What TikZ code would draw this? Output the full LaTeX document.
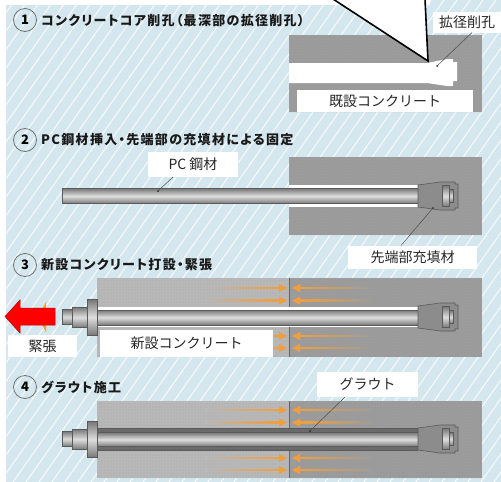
\documentclass[tikz,border=0pt]{standalone}
\usepackage{fontspec}
\newfontfamily\jp{Noto Sans CJK JP}
\newfontfamily\jpp[RawFeature=+palt, LetterSpace=10]{Noto Sans CJK JP}
\usetikzlibrary{patterns.meta}

\definecolor{bgblue}{RGB}{213,231,238}
\definecolor{oldconc}{RGB}{156,156,156}
\definecolor{newconc}{RGB}{184,184,184}
\definecolor{fillmat}{RGB}{140,140,140}
\definecolor{steelout}{RGB}{90,90,90}
\definecolor{rodedge}{RGB}{120,120,120}
\definecolor{rodmid}{RGB}{222,222,222}
\definecolor{orng}{RGB}{242,158,58}
\definecolor{groutc}{RGB}{105,105,105}
\definecolor{arrowred}{RGB}{255,0,0}

\tikzset{
  lbl/.style={fill=white, inner sep=0pt, text=black!85,
    font=\jp\fontsize{14}{14}\selectfont},
  ttl/.style={anchor=west, inner sep=0pt, text=black!90,
    font=\jpp\bfseries\fontsize{13}{13}\selectfont},
  num/.style={circle, draw=black!55, line width=0.8pt, minimum size=23pt,
    inner sep=0pt, font=\jp\bfseries\fontsize{13}{13}\selectfont},
  oldc/.style={fill=oldconc},
  newc/.style={fill=newconc},
  grain/.style={pattern={Dots[radius=0.35pt, distance=3pt]}, pattern color=black!45},
  rod/.style={top color=rodedge, bottom color=rodedge, middle color=rodmid,
    draw=steelout, line width=0.6pt},
  filler/.style={fill=fillmat, draw=steelout, line width=0.6pt},
  leader/.style={draw=black!70, line width=0.5pt},
  leaddot/.style={fill=black!80},
  stripe/.style={draw=white, line width=1.1pt, opacity=0.75},
  divider/.style={draw=black!60, line width=0.7pt},
}

% tip of a rod: cone of filling material, nut and end cap (#1 = rod axis y)
\newcommand{\rodtip}[1]{%
  \draw[filler] (418,#1-11) -- (440,#1-14) -- (455,#1-14) -- (455,#1-12)
    -- (458,#1-12) -- (458,#1+12) -- (455,#1+12) -- (455,#1+14)
    -- (440,#1+14) -- (418,#1+11) -- cycle;
  \shade[rod] (442,#1-10.5) rectangle (449,#1+10.5);
  \shade[rod] (449,#1-6.5) rectangle (453,#1+6.5);
}
% bearing plate, nut and protruding rod end at the stressing side
\newcommand{\rodhead}[1]{%
  \shade[rod] (62,#1-7.5) rectangle (73,#1+7.5);
  \shade[rod] (72,#1-10) rectangle (87,#1+10.5);
  \shade[rod] (87,#1-17.5) rectangle (97,#1+18);
}
% compressive stress arrows across the construction joint
\newcommand{\stressarrows}[1]{%
  \foreach \dy in {-29,-16.5,19,31}{
    \shade[left color=newconc, right color=orng] (205,#1+\dy-0.9) rectangle (280,#1+\dy+0.9);
    \fill[orng] (287,#1+\dy) -- (279,#1+\dy-4) -- (279,#1+\dy+4) -- cycle;
    \fill[orng] (292,#1+\dy) -- (300,#1+\dy-4) -- (300,#1+\dy+4) -- cycle;
    \shade[left color=orng, right color=oldconc] (299,#1+\dy-0.9) rectangle (372,#1+\dy+0.9);
  }
}

\begin{document}
\begin{tikzpicture}[x=1pt, y=-1pt]
\useasboundingbox (0,0) rectangle (501,482);

% striped background
\fill[bgblue] (6,0) rectangle (501,482);
\begin{scope}
  \clip (6,0) rectangle (501,482);
  \foreach \i in {-30,...,40}
    \draw[stripe] (\i*13,482) -- ++(340,-482);
\end{scope}
\fill[white] (0,0) rectangle (430,5);

% ---------- 1: core drilling ----------
\node[num] (n1) at (25,20) {1};
\node[ttl] (t1) at (41,21) {コンクリートコア削孔（最深部の拡径削孔）};
\fill[oldc] (289,35) rectangle (482,112);
\fill[grain] (289,35) rectangle (482,112);
\fill[white] (289,63) -- (427,63) -- (447,59) -- (453,59) -- (453,62) -- (457,62)
  -- (457,81) -- (453,81) -- (453,86) -- (447,86) -- (427,83) -- (289,83) -- cycle;
\node[lbl, minimum width=176pt, minimum height=22pt] (l1) at (385,101) {既設コンクリート};
\node[lbl, minimum width=68pt, minimum height=21pt] (l1b) at (467,22) {拡径削孔};
\coordinate (d1) at (437,66);
\coordinate (d1e) at (472,32.5);
\draw[leader] (d1) -- (d1e);
\fill[leaddot] (d1) circle (1pt);
% magnifier callout
\coordinate (cA) at (333,-1);
\coordinate (cB) at (425,-1);
\coordinate (cT) at (428,61);
\fill[white] (cA) -- (cT) -- (cB) -- cycle;
\draw[black, line width=1.6pt] (cA) -- (cT) -- (cB);

% ---------- 2: inserting the PC tendon ----------
\node[num] (n2) at (25,140) {2};
\node[ttl] (t2) at (41,140) {PC鋼材挿入・先端部の充填材による固定};
\fill[oldc] (289,157) rectangle (482,235);
\fill[grain] (289,157) rectangle (482,235);
\fill[white] (289,185) rectangle (418,207);
\shade[rod] (62,188.5) rectangle (442,203.5);
\rodtip{196}
\node[lbl, minimum width=90pt, minimum height=25pt] (l2) at (193,164.5) {PC 鋼材};
\node[lbl, minimum width=129pt, minimum height=23pt] (l2b) at (412.5,257) {先端部充填材};
\coordinate (d2) at (158,191);
\coordinate (d2e) at (173,177);
\draw[leader] (d2) -- (d2e);
\fill[leaddot] (d2) circle (1pt);
\coordinate (d3) at (433,208);
\coordinate (d3e) at (401,245.5);
\draw[leader] (d3) -- (d3e);
\fill[leaddot] (d3) circle (1pt);

% ---------- 3: new concrete and stressing ----------
\node[num] (n3) at (25,265) {3};
\node[ttl] (t3) at (41,265) {新設コンクリート打設・緊張};
\fill[newc] (97,278) rectangle (289,357);
\fill[oldc] (289,278) rectangle (482,357);
\fill[grain] (97,278) rectangle (482,357);
\stressarrows{317}
\draw[divider] (289,278) -- (289,357);
\fill[white] (97,307) rectangle (418,327);
\shade[rod] (90,310) rectangle (442,325);
\rodtip{317}
\rodhead{317}
\node[lbl, minimum width=173pt, minimum height=27pt] (l3) at (186.5,343.5) {新設コンクリート};
% stressing direction
\fill[orng] (38,317) -- (46,302) -- (46,332) -- cycle;
\draw[fill=arrowred, draw=red!70!black, line width=0.5pt]
  (5,316.5) -- (20,300) -- (20,308) -- (55,308) -- (55,325) -- (20,325) -- (20,333) -- cycle;
\node[lbl, minimum width=69pt, minimum height=22pt] (l3b) at (42.5,346) {緊張};

% ---------- 4: grouting ----------
\node[num] (n4) at (25,387) {4};
\node[ttl] (t4) at (41,387) {グラウト施工};
\fill[newc] (97,401) rectangle (289,478);
\fill[oldc] (289,401) rectangle (482,478);
\fill[grain] (97,401) rectangle (482,478);
\stressarrows{439}
\draw[divider] (289,401) -- (289,478);
\fill[groutc] (97,428) rectangle (418,450);
\fill[pattern={Lines[angle=45, distance=2pt, line width=0.4pt]}, pattern color=black!55]
  (97,428) rectangle (418,450);
\draw[black!65, line width=0.7pt] (97,428) -- (418,428) (97,450) -- (418,450);
\shade[rod] (90,432.5) rectangle (442,446.5);
\rodtip{439}
\rodhead{439}
\node[lbl, minimum width=101pt, minimum height=25pt] (l4) at (367.5,384.5) {グラウト};
\coordinate (d4) at (310,431);
\coordinate (d4e) at (345,397);
\draw[leader] (d4) -- (d4e);
\fill[leaddot] (d4) circle (1pt);
\end{tikzpicture}
\end{document}
